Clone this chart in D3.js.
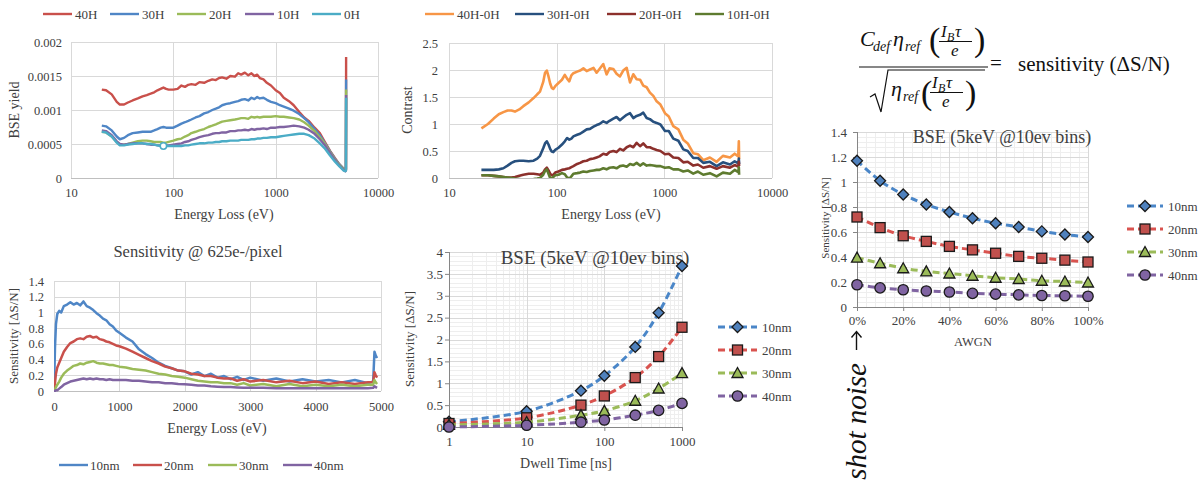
<!DOCTYPE html>
<html><head><meta charset="utf-8">
<script src="https://cdn.jsdelivr.net/npm/d3@7"></script>
<style>
body{margin:0;background:#fff;overflow:hidden;}
svg text{font-family:"Liberation Serif","Times New Roman",serif;}
</style></head><body>
<svg id="c" width="1204" height="484"></svg>
<script>
// ===================== DATA =====================
// Panel A: BSE yield vs energy loss (log x)
const energyA = [20,22,25,28,30,33,36,40,45,50,55,60,65,70,75,80,85,90,100,110,120,130,140,150,165,180,200,220,240,260,280,300,330,360,400,430,460,500,540,580,620,660,700,760,820,900,1000,1100,1200,1350,1500,1700,1900,2100,2400,2700,3000,3400,3800,4200,4600,4800,4860,4880];
const yield40H = [1.30e-3,1.29e-3,1.23e-3,1.12e-3,1.08e-3,1.08e-3,1.11e-3,1.14e-3,1.17e-3,1.20e-3,1.22e-3,1.24e-3,1.26e-3,1.29e-3,1.31e-3,1.33e-3,1.31e-3,1.30e-3,1.30e-3,1.31e-3,1.36e-3,1.34e-3,1.37e-3,1.38e-3,1.37e-3,1.41e-3,1.40e-3,1.43e-3,1.45e-3,1.44e-3,1.47e-3,1.48e-3,1.46e-3,1.50e-3,1.49e-3,1.54e-3,1.52e-3,1.55e-3,1.51e-3,1.54e-3,1.50e-3,1.52e-3,1.47e-3,1.45e-3,1.40e-3,1.36e-3,1.29e-3,1.25e-3,1.18e-3,1.13e-3,1.07e-3,0.97e-3,0.89e-3,0.84e-3,0.74e-3,0.66e-3,0.54e-3,0.40e-3,0.29e-3,0.20e-3,0.14e-3,0.12e-3,0.13e-3,1.78e-3];
const yield30H = [0.77e-3,0.76e-3,0.70e-3,0.61e-3,0.57e-3,0.59e-3,0.63e-3,0.66e-3,0.67e-3,0.68e-3,0.68e-3,0.68e-3,0.70e-3,0.72e-3,0.74e-3,0.75e-3,0.74e-3,0.74e-3,0.74e-3,0.77e-3,0.80e-3,0.82e-3,0.84e-3,0.86e-3,0.89e-3,0.91e-3,0.95e-3,0.97e-3,1.00e-3,1.02e-3,1.04e-3,1.07e-3,1.09e-3,1.10e-3,1.12e-3,1.13e-3,1.15e-3,1.16e-3,1.14e-3,1.18e-3,1.16e-3,1.19e-3,1.17e-3,1.18e-3,1.15e-3,1.12e-3,1.10e-3,1.07e-3,1.05e-3,1.02e-3,0.99e-3,0.94e-3,0.88e-3,0.82e-3,0.72e-3,0.63e-3,0.52e-3,0.39e-3,0.28e-3,0.20e-3,0.14e-3,0.12e-3,0.13e-3,1.45e-3];
const yield20H = [0.68e-3,0.67e-3,0.61e-3,0.53e-3,0.49e-3,0.49e-3,0.50e-3,0.52e-3,0.54e-3,0.55e-3,0.55e-3,0.54e-3,0.53e-3,0.53e-3,0.53e-3,0.52e-3,0.52e-3,0.53e-3,0.55e-3,0.57e-3,0.58e-3,0.61e-3,0.63e-3,0.66e-3,0.68e-3,0.70e-3,0.72e-3,0.75e-3,0.77e-3,0.79e-3,0.81e-3,0.83e-3,0.84e-3,0.85e-3,0.86e-3,0.87e-3,0.88e-3,0.88e-3,0.87e-3,0.90e-3,0.89e-3,0.90e-3,0.89e-3,0.90e-3,0.90e-3,0.90e-3,0.91e-3,0.90e-3,0.90e-3,0.89e-3,0.88e-3,0.86e-3,0.82e-3,0.77e-3,0.69e-3,0.60e-3,0.51e-3,0.38e-3,0.27e-3,0.19e-3,0.13e-3,0.11e-3,0.12e-3,1.30e-3];
const yield10H = [0.70e-3,0.69e-3,0.63e-3,0.54e-3,0.50e-3,0.49e-3,0.50e-3,0.51e-3,0.51e-3,0.51e-3,0.50e-3,0.49e-3,0.49e-3,0.48e-3,0.48e-3,0.48e-3,0.48e-3,0.48e-3,0.49e-3,0.50e-3,0.51e-3,0.53e-3,0.54e-3,0.56e-3,0.58e-3,0.60e-3,0.62e-3,0.63e-3,0.65e-3,0.66e-3,0.66e-3,0.67e-3,0.67e-3,0.69e-3,0.69e-3,0.70e-3,0.70e-3,0.71e-3,0.70e-3,0.72e-3,0.71e-3,0.72e-3,0.72e-3,0.73e-3,0.72e-3,0.74e-3,0.74e-3,0.75e-3,0.75e-3,0.76e-3,0.77e-3,0.76e-3,0.74e-3,0.71e-3,0.65e-3,0.57e-3,0.49e-3,0.37e-3,0.26e-3,0.18e-3,0.12e-3,0.10e-3,0.11e-3,1.22e-3];
const yield0H = [0.68e-3,0.67e-3,0.61e-3,0.52e-3,0.48e-3,0.48e-3,0.49e-3,0.50e-3,0.51e-3,0.51e-3,0.50e-3,0.50e-3,0.49e-3,0.48e-3,0.47e-3,0.47e-3,0.47e-3,0.47e-3,0.47e-3,0.47e-3,0.47e-3,0.48e-3,0.48e-3,0.49e-3,0.50e-3,0.51e-3,0.51e-3,0.52e-3,0.52e-3,0.53e-3,0.53e-3,0.54e-3,0.54e-3,0.55e-3,0.55e-3,0.55e-3,0.56e-3,0.56e-3,0.56e-3,0.57e-3,0.57e-3,0.58e-3,0.58e-3,0.59e-3,0.59e-3,0.60e-3,0.60e-3,0.61e-3,0.62e-3,0.63e-3,0.64e-3,0.65e-3,0.65e-3,0.63e-3,0.58e-3,0.51e-3,0.44e-3,0.33e-3,0.24e-3,0.17e-3,0.11e-3,0.10e-3,0.11e-3,1.18e-3];
const marker0H_E = [80];
const marker0H_V = [0.47e-3];
const seriesA = ["40H","30H","20H","10H","0H"];
const ticksA_y = [0,0.0005,0.001,0.0015,0.002];
const labelsA_y = ["0","0.0005","0.001","0.0015","0.002"];
const ticksLogE = [10,100,1000,10000];
const labelsLogE = ["10","100","1000","10000"];

// Panel B: contrast vs energy loss (log x)
const energyB = [20,23,26,29,32,35,38,41,45,49,55,61,66,70,75,78,81,84,87,90,93,97,104,112,119,125,131,137,143,155,165,177,190,204,220,235,250,271,291,310,336,360,387,415,447,480,515,553,595,637,685,735,790,848,920,1014,1100,1211,1350,1500,1650,1857,2050,2300,2650,3060,3500,4070,4500,4860,4920,4950];
const contrast40 = [0.92,1.00,1.10,1.18,1.22,1.25,1.25,1.23,1.27,1.33,1.40,1.48,1.55,1.60,1.78,1.95,1.99,1.88,1.75,1.67,1.65,1.70,1.76,1.82,1.91,1.84,1.79,1.90,1.94,1.97,1.99,2.03,1.98,2.01,2.04,1.95,2.02,2.11,1.92,2.03,2.02,1.93,1.88,1.99,2.04,1.77,1.92,1.83,1.82,1.71,1.68,1.58,1.52,1.42,1.36,1.20,1.14,0.96,0.90,0.71,0.64,0.46,0.44,0.33,0.38,0.30,0.41,0.38,0.45,0.40,0.68,0.35];
const contrast30 = [0.15,0.15,0.15,0.16,0.18,0.23,0.28,0.31,0.32,0.32,0.31,0.32,0.36,0.41,0.55,0.64,0.68,0.62,0.54,0.49,0.48,0.52,0.56,0.62,0.68,0.74,0.71,0.73,0.77,0.80,0.82,0.86,0.90,0.91,0.95,0.98,1.00,1.05,1.02,1.06,1.10,1.13,1.07,1.12,1.17,1.20,1.11,1.15,1.17,1.21,1.11,1.09,1.04,1.02,0.99,0.87,0.87,0.73,0.69,0.53,0.50,0.37,0.37,0.28,0.30,0.22,0.29,0.25,0.31,0.27,0.36,0.26];
const contrast20 = [0.05,0.05,0.04,0.03,0.02,0.01,0.01,0.02,0.04,0.06,0.08,0.08,0.07,0.06,0.10,0.16,0.19,0.14,0.08,0.05,0.06,0.10,0.12,0.15,0.16,0.17,0.18,0.20,0.22,0.26,0.28,0.31,0.32,0.35,0.36,0.38,0.40,0.45,0.43,0.48,0.50,0.48,0.54,0.51,0.57,0.60,0.57,0.65,0.59,0.64,0.57,0.57,0.54,0.52,0.50,0.44,0.45,0.38,0.37,0.29,0.30,0.23,0.25,0.19,0.22,0.17,0.22,0.19,0.24,0.21,0.30,0.22];
const contrast10 = [0.05,0.05,0.04,0.03,0.02,0.01,0.00,-0.01,-0.02,-0.03,-0.03,-0.02,-0.01,0.00,0.06,0.13,0.16,0.08,0.00,-0.01,0.02,0.05,0.06,0.09,0.07,0.01,-0.01,0.03,0.08,0.09,0.10,0.12,0.11,0.13,0.14,0.15,0.15,0.18,0.16,0.19,0.20,0.18,0.22,0.23,0.21,0.26,0.24,0.28,0.23,0.27,0.23,0.24,0.23,0.22,0.22,0.19,0.20,0.16,0.16,0.12,0.14,0.08,0.12,0.06,0.09,0.03,0.10,0.08,0.15,0.11,0.20,0.06];
const seriesB = ["40H-0H","30H-0H","20H-0H","10H-0H"];
const ticksB_y = [0,0.5,1,1.5,2,2.5];
const labelsB_y = ["0","0.5","1","1.5","2","2.5"];

// Panel C: sensitivity @ 625e-/pixel (linear x)
const energyC = [0,15,30,50,80,110,150,200,250,300,350,400,450,500,550,600,650,700,750,800,850,900,950,1000,1100,1200,1300,1400,1500,1600,1700,1800,1900,2000,2100,2200,2300,2400,2500,2600,2700,2800,2900,3000,3200,3400,3600,3800,4000,4200,4400,4600,4800,4880,4900,4920,4940];
const sens10nm = [0.00,0.55,0.85,0.98,1.02,1.00,1.08,1.10,1.13,1.10,1.12,1.09,1.14,1.08,1.06,1.03,0.99,0.96,0.92,0.90,0.85,0.82,0.77,0.74,0.68,0.63,0.53,0.47,0.42,0.36,0.32,0.29,0.26,0.25,0.21,0.24,0.19,0.22,0.17,0.19,0.15,0.18,0.14,0.17,0.13,0.16,0.12,0.15,0.12,0.14,0.11,0.14,0.10,0.12,0.50,0.45,0.42];
const sens20nm = [0.02,0.10,0.22,0.30,0.36,0.42,0.50,0.56,0.61,0.63,0.66,0.67,0.66,0.69,0.70,0.68,0.69,0.66,0.65,0.63,0.62,0.60,0.58,0.57,0.54,0.50,0.46,0.42,0.38,0.35,0.31,0.29,0.26,0.25,0.22,0.21,0.19,0.19,0.17,0.16,0.16,0.13,0.15,0.12,0.14,0.11,0.13,0.10,0.12,0.09,0.11,0.09,0.11,0.11,0.24,0.20,0.17];
const sens30nm = [0.00,0.02,0.05,0.08,0.12,0.17,0.22,0.26,0.29,0.32,0.33,0.35,0.34,0.36,0.37,0.38,0.36,0.35,0.35,0.34,0.33,0.33,0.32,0.31,0.30,0.28,0.27,0.26,0.24,0.22,0.21,0.19,0.18,0.17,0.15,0.13,0.12,0.11,0.11,0.10,0.10,0.08,0.10,0.07,0.09,0.06,0.09,0.06,0.08,0.06,0.08,0.06,0.08,0.08,0.14,0.11,0.09];
const sens40nm = [0.00,0.00,0.01,0.01,0.03,0.05,0.08,0.10,0.12,0.13,0.14,0.15,0.16,0.15,0.16,0.15,0.16,0.15,0.15,0.14,0.15,0.14,0.14,0.14,0.14,0.13,0.13,0.12,0.11,0.11,0.10,0.10,0.09,0.085,0.08,0.07,0.07,0.06,0.055,0.05,0.05,0.045,0.04,0.04,0.04,0.035,0.035,0.035,0.035,0.035,0.035,0.035,0.035,0.04,0.06,0.05,0.04];
const seriesNm = ["10nm","20nm","30nm","40nm"];
const ticksC_x = [0,1000,2000,3000,4000,5000];
const labelsC_x = ["0","1000","2000","3000","4000","5000"];
const ticksSens14 = [0,0.2,0.4,0.6,0.8,1,1.2,1.4];
const labelsSens14 = ["0","0.2","0.4","0.6","0.8","1","1.2","1.4"];

// Panel D: sensitivity vs dwell time
const dwell = [1,10,50,100,250,500,1000];
const dwell10nm = [0.12,0.36,0.83,1.17,1.83,2.61,3.68];
const dwell20nm = [0.08,0.21,0.50,0.71,1.13,1.61,2.28];
const dwell30nm = [0.05,0.11,0.27,0.37,0.60,0.88,1.23];
const dwell40nm = [0.00,0.04,0.11,0.16,0.27,0.38,0.54];
const ticksD_x = [1,10,100,1000];
const labelsD_x = ["1","10","100","1000"];
const ticksD_y = [0,0.5,1,1.5,2,2.5,3,3.5,4];
const labelsD_y = ["0","0.5","1","1.5","2","2.5","3","3.5","4"];

// Panel E: sensitivity vs AWGN
const awgn = [0,0.1,0.2,0.3,0.4,0.5,0.6,0.7,0.8,0.9,1.0];
const awgn10nm = [1.17,1.01,0.90,0.82,0.76,0.71,0.67,0.64,0.605,0.58,0.56];
const awgn20nm = [0.72,0.635,0.57,0.525,0.485,0.457,0.43,0.405,0.39,0.375,0.36];
const awgn30nm = [0.395,0.35,0.31,0.285,0.268,0.25,0.234,0.224,0.21,0.204,0.196];
const awgn40nm = [0.178,0.153,0.138,0.128,0.12,0.109,0.103,0.097,0.092,0.09,0.086];
const ticksE_x = [0,0.2,0.4,0.6,0.8,1.0];
const labelsE_x = ["0%","20%","40%","60%","80%","100%"];

// ===================== DRAWING =====================
const svg = d3.select("#c");
const FONT = '"Liberation Serif","Times New Roman",serif';
const TXT = "#404040";
const GRID = "#D9D9D9";
const GRID_MINOR = "#EEEEEE";

function txt(x, y, s, o = {}) {
  const t = svg.append("text").attr("x", x).attr("y", y).text(s)
    .attr("font-size", o.size || 13).attr("text-anchor", o.anchor || "start")
    .attr("fill", o.fill || TXT).attr("font-family", o.family || FONT);
  if (o.italic) t.attr("font-style", "italic");
  if (o.rot != null) t.attr("transform", `rotate(${o.rot},${x},${y})`);
  return t;
}
function hlines(vals, y, x0, x1, color, w) {
  svg.append("g").selectAll("line").data(vals).enter().append("line")
    .attr("x1", x0).attr("x2", x1).attr("y1", d => Math.round(y(d)) + 0.5).attr("y2", d => Math.round(y(d)) + 0.5)
    .attr("stroke", color).attr("stroke-width", w || 1);
}
function vlines(vals, x, y0, y1, color, w) {
  svg.append("g").selectAll("line").data(vals).enter().append("line")
    .attr("y1", y0).attr("y2", y1).attr("x1", d => Math.round(x(d)) + 0.5).attr("x2", d => Math.round(x(d)) + 0.5)
    .attr("stroke", color).attr("stroke-width", w || 1);
}
function styleAxis(g, size) {
  g.attr("font-family", FONT).attr("font-size", size).attr("color", TXT);
  g.select(".domain").remove();
  g.selectAll("text").attr("fill", TXT);
}
let clipId = 0;
function clip(x0, y0, x1, y1) {
  const id = "clip" + (clipId++);
  svg.append("clipPath").attr("id", id).append("rect").attr("x", x0).attr("y", y0).attr("width", x1 - x0).attr("height", y1 - y0);
  return "url(#" + id + ")";
}
function noisyLine(xs, vs, x, y, color, cp, w) {
  const n = Math.min(xs.length, vs.length);
  const pts = d3.range(n).map(i => [x(xs[i]), y(vs[i])]);
  svg.append("path").attr("d", d3.line()(pts)).attr("fill", "none").attr("stroke", color)
    .attr("stroke-width", w || 2).attr("stroke-linejoin", "round").attr("clip-path", cp);
}

// ---------- Panel A ----------
{
  const x = d3.scaleLog().domain([10, 10000]).range([71, 378]);
  const y = d3.scaleLinear().domain([0, 0.002]).range([178, 42]);
  hlines(ticksA_y.slice(1), y, 71, 378, GRID);
  vlines(ticksLogE, x, 42, 178, GRID);
  hlines([0], y, 71, 378, "#BFBFBF");
  const gy = svg.append("g").attr("transform", "translate(71,0)")
    .call(d3.axisLeft(y).tickValues(ticksA_y).tickFormat((d, i) => labelsA_y[i]).tickSize(0).tickPadding(9));
  styleAxis(gy, 12.5);
  const gx = svg.append("g").attr("transform", "translate(0,178)")
    .call(d3.axisBottom(x).tickValues(ticksLogE).tickFormat((d, i) => labelsLogE[i]).tickSize(0).tickPadding(10));
  styleAxis(gx, 12.5);
  txt(19, 110, "BSE yield", { size: 14, anchor: "middle", rot: -90 });
  txt(224, 219, "Energy Loss (eV)", { size: 14, anchor: "middle" });
  const cp = clip(71, 30, 378, 178);
  const colors = ["#C9504B", "#4F86C6", "#9BBB59", "#8064A2", "#4BACC6"];
  const data = [yield40H, yield30H, yield20H, yield10H, yield0H];
  data.forEach((vs, i) => noisyLine(energyA, vs, x, y, colors[i], cp, 2.4));
  svg.selectAll(null).data(marker0H_E).enter().append("circle")
    .attr("cx", d => x(d)).attr("cy", (d, i) => y(marker0H_V[i])).attr("r", 3.2)
    .attr("fill", "#fff").attr("stroke", colors[4]).attr("stroke-width", 1.5);
  const lx = [43, 110, 177, 245, 312];
  seriesA.forEach((s, i) => {
    svg.append("line").attr("x1", lx[i]).attr("x2", lx[i] + 29).attr("y1", 14).attr("y2", 14)
      .attr("stroke", colors[i]).attr("stroke-width", 2.4);
    txt(lx[i] + 32, 18.5, s, { size: 13 });
  });
}

// ---------- Panel B ----------
{
  const x = d3.scaleLog().domain([10, 10000]).range([449, 772]);
  const y = d3.scaleLinear().domain([0, 2.5]).range([178, 43]);
  hlines(ticksB_y.slice(1), y, 449, 772, GRID);
  vlines(ticksLogE, x, 43, 178, GRID);
  hlines([0], y, 449, 772, "#BFBFBF");
  const gy = svg.append("g").attr("transform", "translate(449,0)")
    .call(d3.axisLeft(y).tickValues(ticksB_y).tickFormat((d, i) => labelsB_y[i]).tickSize(0).tickPadding(11));
  styleAxis(gy, 12.5);
  const gx = svg.append("g").attr("transform", "translate(0,178)")
    .call(d3.axisBottom(x).tickValues(ticksLogE).tickFormat((d, i) => labelsLogE[i]).tickSize(0).tickPadding(10));
  styleAxis(gx, 12.5);
  txt(412, 110, "Contrast", { size: 14, anchor: "middle", rot: -90 });
  txt(611, 219, "Energy Loss (eV)", { size: 14, anchor: "middle" });
  const cp = clip(449, 30, 772, 178);
  const colors = ["#F79646", "#27507E", "#8C302C", "#5E7B2F"];
  const data = [contrast40, contrast30, contrast20, contrast10];
  data.forEach((vs, i) => noisyLine(energyB, vs, x, y, colors[i], cp, 2.6));
  const lx = [425, 515, 607, 695];
  seriesB.forEach((s, i) => {
    svg.append("line").attr("x1", lx[i]).attr("x2", lx[i] + 29).attr("y1", 14).attr("y2", 14)
      .attr("stroke", colors[i]).attr("stroke-width", 2.4);
    txt(lx[i] + 32, 18.5, s, { size: 13 });
  });
}

// ---------- Panel C ----------
{
  const x = d3.scaleLinear().domain([0, 5000]).range([54, 381]);
  const y = d3.scaleLinear().domain([0, 1.4]).range([391, 281]);
  hlines(ticksSens14.slice(1), y, 54, 381, GRID);
  vlines(ticksC_x, x, 281, 391, GRID);
  hlines([0], y, 54, 381, "#BFBFBF");
  const gy = svg.append("g").attr("transform", "translate(54,0)")
    .call(d3.axisLeft(y).tickValues(ticksSens14).tickFormat((d, i) => labelsSens14[i]).tickSize(0).tickPadding(10));
  styleAxis(gy, 12.5);
  const gx = svg.append("g").attr("transform", "translate(0,391)")
    .call(d3.axisBottom(x).tickValues(ticksC_x).tickFormat((d, i) => labelsC_x[i]).tickSize(0).tickPadding(11));
  styleAxis(gx, 12.5);
  txt(198, 257, "Sensitivity @ 625e-/pixel", { size: 16.5, anchor: "middle" });
  txt(18, 336, "Sensitivity [ΔS/N]", { size: 13, anchor: "middle", rot: -90 });
  txt(217, 433, "Energy Loss (eV)", { size: 14, anchor: "middle" });
  const cp = clip(54, 270, 381, 392);
  const colors = ["#4F86C6", "#C9504B", "#9BBB59", "#8064A2"];
  const data = [sens10nm, sens20nm, sens30nm, sens40nm];
  data.forEach((vs, i) => noisyLine(energyC, vs, x, y, colors[i], cp, 2.5));
  const lx = [59, 133, 208, 283];
  seriesNm.forEach((s, i) => {
    svg.append("line").attr("x1", lx[i]).attr("x2", lx[i] + 29).attr("y1", 465).attr("y2", 465)
      .attr("stroke", colors[i]).attr("stroke-width", 2.4);
    txt(lx[i] + 31, 469.5, s, { size: 13 });
  });
}

// Marker helpers
const nmFill = ["#4F81BD", "#C0504D", "#9BBB59", "#8064A2"];
const nmLine = ["#4A86C8", "#D9534F", "#9BBB59", "#8064A2"];
function marker(g, kind, cx, cy, fill) {
  let el;
  if (kind === 0) el = g.append("path").attr("d", `M${cx},${cy - 5.5}L${cx + 5.5},${cy}L${cx},${cy + 5.5}L${cx - 5.5},${cy}Z`);
  else if (kind === 1) el = g.append("rect").attr("x", cx - 5).attr("y", cy - 5).attr("width", 10).attr("height", 10);
  else if (kind === 2) el = g.append("path").attr("d", `M${cx},${cy - 5.5}L${cx + 5.5},${cy + 4.5}L${cx - 5.5},${cy + 4.5}Z`);
  else el = g.append("circle").attr("cx", cx).attr("cy", cy).attr("r", 5.2);
  el.attr("fill", fill).attr("stroke", "#1a1a1a").attr("stroke-width", 1.3);
}
function trendSeries(xs, vs, x, y, k) {
  const pts = xs.map((d, i) => [x(d), y(vs[i])]);
  svg.append("path").attr("d", d3.line().curve(d3.curveCatmullRom.alpha(0.5))(pts))
    .attr("fill", "none").attr("stroke", nmLine[k]).attr("stroke-width", 3).attr("stroke-dasharray", "7,4");
  const g = svg.append("g");
  pts.forEach(p => marker(g, k, p[0], p[1], nmFill[k]));
}
function legendNm(x0, x1, tx, ys) {
  seriesNm.forEach((s, k) => {
    svg.append("line").attr("x1", x0).attr("x2", x1).attr("y1", ys[k]).attr("y2", ys[k])
      .attr("stroke", nmLine[k]).attr("stroke-width", 3).attr("stroke-dasharray", "7,4");
    marker(svg.append("g"), k, (x0 + x1) / 2, ys[k], nmFill[k]);
    txt(tx, ys[k] + 4.5, s, { size: 13 });
  });
}

// ---------- Panel D ----------
{
  const x = d3.scaleLog().domain([1, 1000]).range([449, 682]);
  const y = d3.scaleLinear().domain([0, 4]).range([427, 252]);
  const minorX = [];
  [1, 10, 100].forEach(b => { for (let m = 2; m <= 9; m++) minorX.push(b * m); });
  const minorY = d3.range(0, 41).map(i => i / 10).filter(v => Math.abs(v * 2 - Math.round(v * 2)) > 1e-6);
  vlines(minorX, x, 252, 427, GRID_MINOR);
  hlines(minorY, y, 449, 682, GRID_MINOR);
  hlines(ticksD_y.slice(1), y, 449, 682, GRID);
  vlines(ticksD_x.slice(1), x, 252, 427, GRID);
  const gy = svg.append("g").attr("transform", "translate(449,0)")
    .call(d3.axisLeft(y).tickValues(ticksD_y).tickFormat((d, i) => labelsD_y[i]).tickSize(4).tickPadding(2));
  styleAxis(gy, 13);
  gy.selectAll("line").attr("stroke", "#868686");
  const gx = svg.append("g").attr("transform", "translate(0,427)")
    .call(d3.axisBottom(x).tickValues(ticksD_x).tickFormat((d, i) => labelsD_x[i]).tickSize(4).tickPadding(6));
  styleAxis(gx, 13);
  gx.selectAll("line").attr("stroke", "#868686");
  svg.append("line").attr("x1", 449.5).attr("x2", 449.5).attr("y1", 252).attr("y2", 427).attr("stroke", "#868686");
  svg.append("line").attr("x1", 449).attr("x2", 682).attr("y1", 427.5).attr("y2", 427.5).attr("stroke", "#868686");
  txt(595, 264, "BSE (5keV @10ev bins)", { size: 19, anchor: "middle" });
  txt(414, 339, "Sensitivity  [ΔS/N]", { size: 13, anchor: "middle", rot: -90 });
  txt(566, 468, "Dwell  Time [ns]", { size: 14, anchor: "middle" });
  const data = [dwell10nm, dwell20nm, dwell30nm, dwell40nm];
  data.forEach((vs, k) => trendSeries(dwell, vs, x, y, k));
  legendNm(718, 757, 762, [327, 350, 373, 396]);
}

// ---------- Panel E ----------
{
  const x = d3.scaleLinear().domain([0, 1]).range([857, 1088]);
  const y = d3.scaleLinear().domain([0, 1.4]).range([307, 132]);
  const minorX = d3.range(0, 26).map(i => i * 0.04).filter(v => Math.abs(v * 5 - Math.round(v * 5)) > 1e-6);
  const minorY = d3.range(0, 36).map(i => i * 0.04).filter(v => Math.abs(v * 5 - Math.round(v * 5)) > 1e-6);
  vlines(minorX, x, 132, 307, GRID_MINOR);
  hlines(minorY, y, 857, 1088, GRID_MINOR);
  hlines(ticksSens14.slice(1), y, 857, 1088, GRID);
  vlines(ticksE_x.slice(1), x, 132, 307, GRID);
  const gy = svg.append("g").attr("transform", "translate(857,0)")
    .call(d3.axisLeft(y).tickValues(ticksSens14).tickFormat((d, i) => labelsSens14[i]).tickSize(4).tickPadding(6));
  styleAxis(gy, 13);
  gy.selectAll("line").attr("stroke", "#868686");
  const gx = svg.append("g").attr("transform", "translate(0,307)")
    .call(d3.axisBottom(x).tickValues(ticksE_x).tickFormat((d, i) => labelsE_x[i]).tickSize(4).tickPadding(5));
  styleAxis(gx, 13);
  gx.selectAll("line").attr("stroke", "#868686");
  svg.append("line").attr("x1", 857.5).attr("x2", 857.5).attr("y1", 132).attr("y2", 307).attr("stroke", "#868686");
  svg.append("line").attr("x1", 857).attr("x2", 1088).attr("y1", 307.5).attr("y2", 307.5).attr("stroke", "#868686");
  txt(1002, 143, "BSE (5keV @10ev bins)", { size: 18, anchor: "middle" });
  txt(829, 218, "Sensitivity [ΔS/N]", { size: 11, anchor: "middle", rot: -90 });
  txt(973, 346, "AWGN", { size: 12.5, anchor: "middle" });
  const data = [awgn10nm, awgn20nm, awgn30nm, awgn40nm];
  data.forEach((vs, k) => trendSeries(awgn, vs, x, y, k));
  legendNm(1127, 1163, 1168, [206, 229, 252, 275]);
  // arrow & shot noise
  svg.append("path").attr("d", "M856.5,350 L856.5,332 M851.5,337.5 L856.5,331.5 L861.5,337.5")
    .attr("fill", "none").attr("stroke", "#111").attr("stroke-width", 1.4);
  txt(866, 363, "shot noise", { size: 29, anchor: "end", rot: -90, italic: true, fill: "#111" });
}

// ---------- Equation ----------
{
  const M = { italic: true, fill: "#111" };
  // numerator
  txt(860, 46, "C", Object.assign({ size: 22 }, M));
  txt(873, 51, "def", Object.assign({ size: 14 }, M));
  txt(893, 46, "η", Object.assign({ size: 22 }, M));
  txt(905, 51, "ref", Object.assign({ size: 14 }, M));
  txt(929, 51, "(", { size: 34, fill: "#111" });
  txt(941, 37, "I", Object.assign({ size: 17 }, M));
  txt(947, 41, "B", Object.assign({ size: 12 }, M));
  txt(955, 37, "τ", Object.assign({ size: 17 }, M));
  svg.append("line").attr("x1", 939).attr("x2", 972).attr("y1", 41.5).attr("y2", 41.5).attr("stroke", "#111").attr("stroke-width", 1);
  txt(951, 56, "e", Object.assign({ size: 17 }, M));
  txt(974, 51, ")", { size: 34, fill: "#111" });
  // main bar
  svg.append("line").attr("x1", 859).attr("x2", 988).attr("y1", 67).attr("y2", 67).attr("stroke", "#111").attr("stroke-width", 1.2);
  // denominator
  svg.append("path").attr("d", "M870,97 L875,94 L881,112 L888,70 L985,70").attr("fill", "none").attr("stroke", "#111").attr("stroke-width", 1.2);
  txt(891, 96, "η", Object.assign({ size: 22 }, M));
  txt(903, 101, "ref", Object.assign({ size: 14 }, M));
  txt(921, 104, "(", { size: 34, fill: "#111" });
  txt(932, 88, "I", Object.assign({ size: 17 }, M));
  txt(938, 92, "B", Object.assign({ size: 12 }, M));
  txt(946, 88, "τ", Object.assign({ size: 17 }, M));
  svg.append("line").attr("x1", 930).attr("x2", 963).attr("y1", 92.5).attr("y2", 92.5).attr("stroke", "#111").attr("stroke-width", 1);
  txt(942, 107, "e", Object.assign({ size: 17 }, M));
  txt(965, 104, ")", { size: 34, fill: "#111" });
  txt(990, 70, "=", { size: 21, fill: "#111" });
  txt(1018, 71, "sensitivity (ΔS/N)", { size: 21, fill: "#111" });
}
</script>
</body></html>
